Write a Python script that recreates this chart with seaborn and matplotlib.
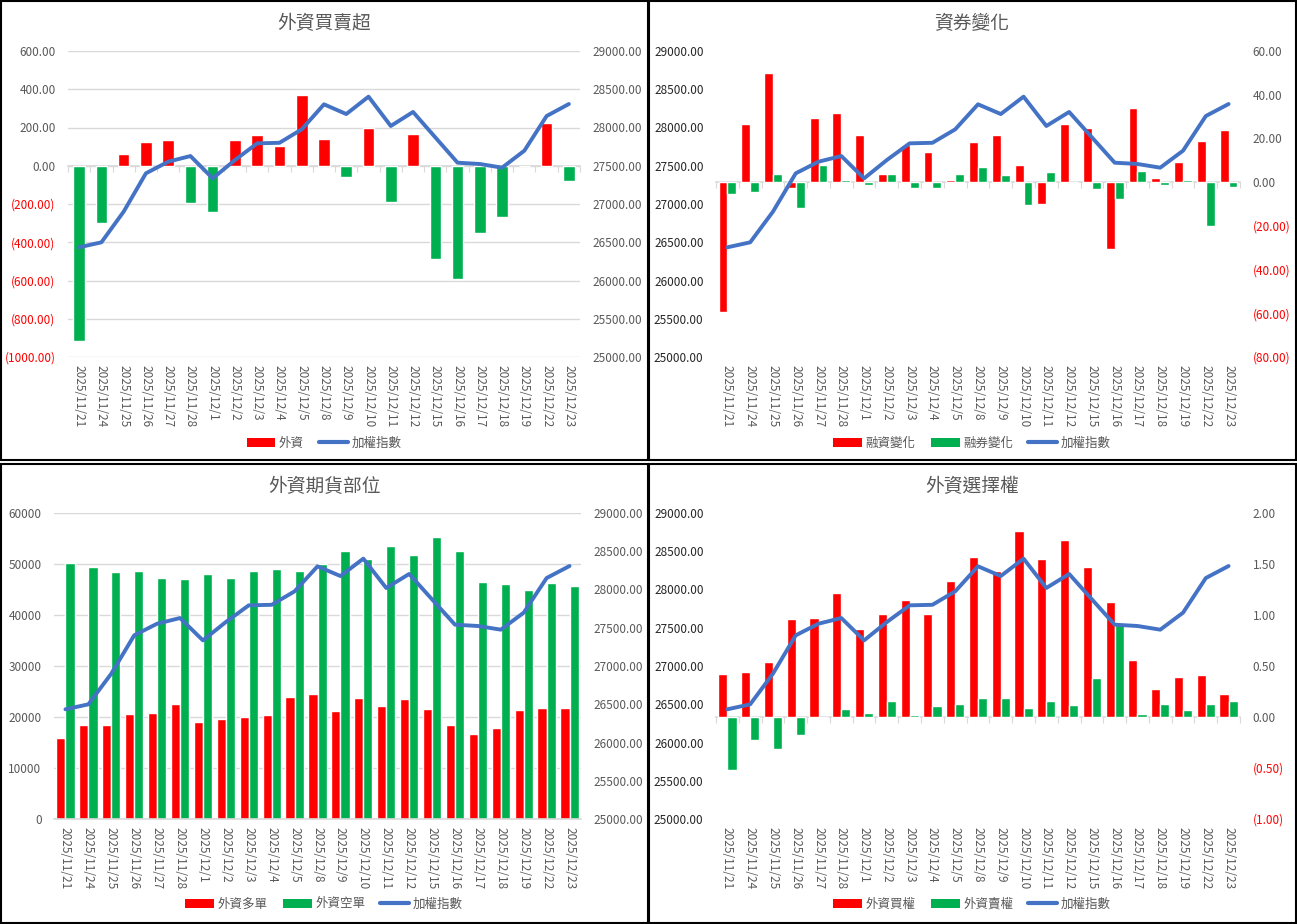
import numpy as np
import pandas as pd
import matplotlib
matplotlib.use('Agg')
import matplotlib.pyplot as plt
import seaborn as sns
from matplotlib.patches import Patch, Rectangle
from matplotlib.lines import Line2D

# ---- data ----
dates = ['2025/11/21', '2025/11/24', '2025/11/25', '2025/11/26', '2025/11/27', '2025/11/28',
         '2025/12/1', '2025/12/2', '2025/12/3', '2025/12/4', '2025/12/5', '2025/12/8',
         '2025/12/9', '2025/12/10', '2025/12/11', '2025/12/12', '2025/12/15', '2025/12/16',
         '2025/12/17', '2025/12/18', '2025/12/19', '2025/12/22', '2025/12/23']

taiex = [26434, 26499, 26900, 27401, 27553, 27627, 27335, 27575, 27793, 27800, 27976, 28303,
         28176, 28403, 28020, 28203, 27871, 27540, 27523, 27475, 27697, 28150, 28307]

foreign_net = [-917, -298, 61, 122, 134, -193, -244, 134, 162, 103, 370, 138,
               -57, 195, -188, 166, -488, -594, -354, -268, 0, 225, -80]

margin_chg = [-59.5, 26.7, 49.9, -2.9, 29.3, 31.6, 21.7, 3.8, 16.8, 14.0, 0.9, 18.3,
              21.4, 7.9, -10.1, 26.7, 24.9, -30.5, 33.7, 2.1, 9.2, 18.8, 23.8]
short_chg = [-5.5, -4.3, 3.7, -11.7, 7.8, 0.9, -1.5, 3.8, -2.7, -2.7, 3.7, 6.7,
             3.2, -10.4, 4.6, -0.5, -3.0, -7.5, 5.2, -1.2, 1.2, -20.0, -2.0]

fut_long = [15900, 18370, 18370, 20650, 20850, 22480, 19090, 19540, 20000, 20330, 23990, 24510,
            21240, 23730, 22090, 23460, 21630, 18500, 16600, 17780, 21310, 21830, 21770]
fut_short = [50200, 49480, 48430, 48560, 47190, 47060, 47970, 47190, 48560, 49090, 48690, 50070,
             52610, 50920, 53460, 51700, 55230, 52480, 46540, 46080, 44840, 46210, 45690]

opt_call = [0.42, 0.44, 0.54, 0.96, 0.97, 1.22, 0.86, 1.01, 1.15, 1.01, 1.33, 1.57,
            1.43, 1.82, 1.55, 1.74, 1.47, 1.13, 0.56, 0.27, 0.39, 0.41, 0.23]
opt_put = [-0.52, -0.23, -0.31, -0.18, 0.0, 0.08, 0.04, 0.16, 0.02, 0.11, 0.13, 0.19,
           0.19, 0.09, 0.16, 0.12, 0.38, 0.90, 0.03, 0.13, 0.07, 0.13, 0.16]

RED = '#FF0000'
GREEN = '#00B050'
BLUE = '#4472C4'
GRAY = '#595959'
GRID = '#D9D9D9'

sns.set_style('white')
plt.rcParams['font.family'] = ['Noto Sans CJK TC', 'DejaVu Sans']

W, H = 1297, 924
fig = plt.figure(figsize=(W / 100, H / 100), dpi=100)
n = len(dates)
xpos = np.arange(n)


def fmt(v, dec):
    s = f'{abs(v):.{dec}f}'
    return f'({s})' if v < 0 else s


def set_yticks(ax, ticks, dec):
    ax.set_yticks(ticks)
    ax.set_yticklabels([fmt(t, dec) for t in ticks])
    for lab, t in zip(ax.get_yticklabels(), ticks):
        lab.set_color(RED if t < 0 else GRAY)
    ax.tick_params(axis='y', length=0, pad=9, labelsize=8.5)


def zero_axis(ax, lo, hi):
    # category axis crossing at zero, with tick marks between categories
    pos = (0 - lo) / (hi - lo)
    sec = ax.secondary_xaxis(pos)
    sec.set_xticks(np.arange(n + 1) - 0.5)
    sec.tick_params(axis='x', length=4, color=GRID, labeltop=False, labelbottom=False,
                    direction='in' if pos > 0.5 else 'out')
    for s in sec.spines.values():
        s.set_color(GRID)
        s.set_linewidth(1.2)


def style_x(ax):
    ax.set_xlim(-0.5, n - 0.5)
    ax.set_xticks(xpos)
    ax.set_xticklabels(dates, rotation=270, fontsize=8.5, color=GRAY)
    ax.tick_params(axis='x', length=0, pad=6)
    ax.set_xlabel('')
    ax.set_ylabel('')


def index_line(ax2):
    sns.lineplot(x=xpos, y=taiex, color=BLUE, lw=2.8, ax=ax2)
    ax2.set_ylim(25000, 29000)
    set_yticks(ax2, np.arange(25000, 29001, 500), 2)
    ax2.set_ylabel('')
    for s in ax2.spines.values():
        s.set_visible(False)


def panel_frame(x0, y0, title, cx, legend_items, ly):
    fig.add_artist(Rectangle((x0, y0), 0.4985, 0.497, transform=fig.transFigure,
                             fill=False, ec='black', lw=1.5))
    fig.text(cx, y0 + 0.497 - 0.025, title, ha='center', va='center', fontsize=13.5, color=GRAY)
    handles = []
    labels = []
    for kind, color, label in legend_items:
        if kind == 'bar':
            handles.append(Patch(facecolor=color, edgecolor='none'))
        else:
            handles.append(Line2D([0], [0], color=color, lw=3))
        labels.append(label)
    fig.legend(handles, labels, loc='center', bbox_to_anchor=(cx, ly), ncol=len(handles),
               frameon=False, fontsize=9, handlelength=2.3, handleheight=0.75,
               columnspacing=1.2, handletextpad=0.3, labelcolor=GRAY)


# ---- panel 1: 外資買賣超 ----
ax = fig.add_axes([68 / W, 1 - 357 / H, 512 / W, 306 / H])
df1 = pd.DataFrame({'date': dates, 'value': foreign_net})
df1['sign'] = np.where(df1['value'] < 0, 'neg', 'pos')
sns.barplot(data=df1, x='date', y='value', hue='sign', palette={'pos': RED, 'neg': GREEN},
            dodge=False, width=0.52, saturation=1, errorbar=None, legend=False, ax=ax)
ax.set_ylim(-1000, 600)
set_yticks(ax, np.arange(-1000, 601, 200), 2)
ax.grid(axis='y', color=GRID, lw=1)
ax.set_axisbelow(True)
for s in ax.spines.values():
    s.set_visible(False)
style_x(ax)
zero_axis(ax, -1000, 600)
ax2 = ax.twinx()
index_line(ax2)
ax.set_xlim(-0.5, n - 0.5)
panel_frame(0.001, 0.502, '外資買賣超', 324 / W,
            [('bar', RED, '外資'), ('line', BLUE, '加權指數')], 1 - 443 / H)

# ---- panel 2: 資券變化 ----
ax = fig.add_axes([716 / W, 1 - 357 / H, 524 / W, 306 / H])
df2 = pd.DataFrame({'date': dates * 2,
                    'series': ['融資變化'] * n + ['融券變化'] * n,
                    'value': margin_chg + short_chg})
sns.barplot(data=df2, x='date', y='value', hue='series', hue_order=['融資變化', '融券變化'],
            palette=[RED, GREEN], width=0.78, saturation=1, errorbar=None, legend=False, ax=ax)
ax.set_ylim(-80, 60)
for s in ax.spines.values():
    s.set_visible(False)
style_x(ax)
zero_axis(ax, -80, 60)
ax2 = ax.twinx()
index_line(ax2)
ax.yaxis.tick_right()
ax2.yaxis.tick_left()
set_yticks(ax, np.arange(-80, 61, 20), 2)
ax.set_xlim(-0.5, n - 0.5)
panel_frame(0.5005, 0.502, '資券變化', 972 / W,
            [('bar', RED, '融資變化'), ('bar', GREEN, '融券變化'), ('line', BLUE, '加權指數')],
            1 - 443 / H)

# ---- panel 3: 外資期貨部位 ----
ax = fig.add_axes([54 / W, 1 - 819 / H, 527 / W, 306 / H])
df3 = pd.DataFrame({'date': dates * 2,
                    'series': ['外資多單'] * n + ['外資空單'] * n,
                    'value': fut_long + fut_short})
sns.barplot(data=df3, x='date', y='value', hue='series', hue_order=['外資多單', '外資空單'],
            palette=[RED, GREEN], width=0.8, saturation=1, errorbar=None, legend=False, ax=ax)
ax.set_ylim(0, 60000)
ax.set_yticks(np.arange(0, 60001, 10000))
ax.set_yticklabels([f'{t}' for t in range(0, 60001, 10000)], color=GRAY)
ax.tick_params(axis='y', length=0, pad=9, labelsize=8.5)
ax.grid(axis='y', color=GRID, lw=1)
ax.set_axisbelow(True)
for side in ['top', 'left', 'right']:
    ax.spines[side].set_visible(False)
ax.spines['bottom'].set_color(GRID)
ax.spines['bottom'].set_linewidth(1.2)
style_x(ax)
ax.set_xticks(np.arange(n + 1) - 0.5, minor=True)
ax.tick_params(axis='x', which='minor', length=4, color=GRID, direction='out')
ax2 = ax.twinx()
index_line(ax2)
ax.set_xlim(-0.5, n - 0.5)
panel_frame(0.001, 0.001, '外資期貨部位', 324 / W,
            [('bar', RED, '外資多單'), ('bar', GREEN, '外資空單'), ('line', BLUE, '加權指數')],
            1 - 904 / H)

# ---- panel 4: 外資選擇權 ----
ax = fig.add_axes([716 / W, 1 - 819 / H, 524 / W, 306 / H])
df4 = pd.DataFrame({'date': dates * 2,
                    'series': ['外資買權'] * n + ['外資賣權'] * n,
                    'value': opt_call + opt_put})
sns.barplot(data=df4, x='date', y='value', hue='series', hue_order=['外資買權', '外資賣權'],
            palette=[RED, GREEN], width=0.8, saturation=1, errorbar=None, legend=False, ax=ax)
ax.set_ylim(-1, 2)
for s in ax.spines.values():
    s.set_visible(False)
style_x(ax)
zero_axis(ax, -1, 2)
ax2 = ax.twinx()
index_line(ax2)
ax.yaxis.tick_right()
ax2.yaxis.tick_left()
set_yticks(ax, np.arange(-1, 2.01, 0.5), 2)
ax.set_xlim(-0.5, n - 0.5)
panel_frame(0.5005, 0.001, '外資選擇權', 972 / W,
            [('bar', RED, '外資買權'), ('bar', GREEN, '外資賣權'), ('line', BLUE, '加權指數')],
            1 - 904 / H)

fig.savefig('out.png', dpi=100)
